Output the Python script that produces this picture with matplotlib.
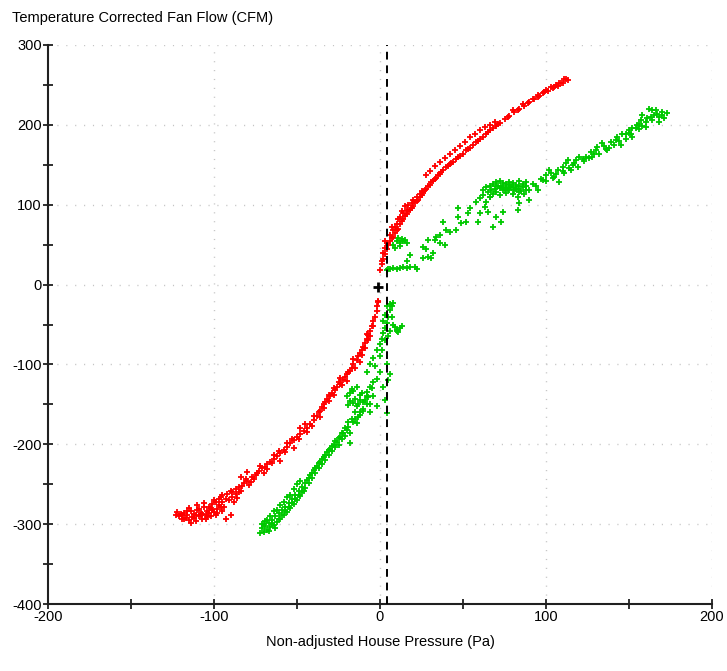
import matplotlib
matplotlib.use("Agg")
import matplotlib.pyplot as plt
from matplotlib.ticker import MultipleLocator

# ---------------- data, (pressure Pa, flow CFM) ----------------
red_lower = [
    (-123, -288), (-121, -290), (-120, -287), (-119, -293), (-118, -286), (-117, -292),
    (-116, -289), (-115, -295), (-114, -284), (-113, -291), (-112, -287), (-111, -296),
    (-110, -282), (-109, -290), (-108, -286), (-107, -293), (-106, -279), (-105, -288),
    (-104, -283), (-103, -278), (-102, -290), (-101, -275), (-100, -285), (-99, -272),
    (-98, -281), (-97, -268), (-96, -278), (-95, -264), (-118, -294), (-115, -280),
    (-112, -292), (-110, -276), (-108, -289), (-106, -274), (-104, -291), (-102, -280),
    (-100, -270), (-98, -286), (-96, -266), (-94, -279), (-92, -262), (-90, -259),
    (-93, -294), (-90, -288), (-95, -284), (-86, -267), (-88, -272),
    (-89, -260), (-87, -256), (-85, -253), (-84, -258), (-82, -248), (-80, -246),
    (-79, -251), (-77, -241), (-75, -238), (-73, -233), (-71, -230), (-70, -236),
    (-68, -225), (-66, -222), (-64, -219), (-62, -215), (-60, -211), (-58, -207),
    (-56, -203), (-54, -199), (-52, -195), (-50, -191), (-48, -187), (-46, -183),
    (-44, -179), (-42, -174), (-40, -169), (-38, -164), (-36, -158), (-35, -153),
    (-34, -150), (-33, -147), (-32, -143), (-30, -140), (-29, -136), (-27, -132),
    (-26, -128), (-24, -124), (-22, -120), (-21, -116), (-20, -112), (-18, -108),
    (-17, -104), (-16, -100), (-14, -95), (-13, -90), (-12, -86), (-11, -82),
    (-10, -78), (-9, -73), (-8, -68), (-7, -63), (-6, -58), (-5, -52), (-4, -46),
    (-3, -40), (-2, -33), (-2, -27), (-1, -22), (-1, -20),
    (-84, -241), (-80, -235), (-76, -243), (-72, -227), (-68, -231), (-64, -213),
    (-60, -221), (-56, -199), (-52, -205), (-48, -179), (-44, -185), (-40, -164),
    (-36, -166), (-31, -146), (-28, -130), (-24, -117), (-20, -121), (-16, -93),
    (-12, -97), (-8, -62),
    (-122, -285), (-119, -289), (-116, -284), (-114, -298), (-111, -289), (-109, -281),
    (-107, -287), (-105, -294), (-103, -286), (-101, -282), (-99, -288), (-97, -276),
    (-95, -272), (-93, -268), (-91, -270), (-89, -266), (-87, -262), (-85, -260),
    (-83, -252), (-81, -244), (-78, -247), (-74, -236), (-69, -228), (-65, -224),
    (-61, -209), (-57, -210), (-53, -193), (-49, -193), (-45, -175), (-41, -177),
    (-37, -160), (-34, -155), (-31, -138), (-28, -138), (-25, -122), (-23, -126),
    (-19, -110), (-15, -104), (-11, -88), (-9, -80), (-7, -70), (-6, -64), (-4, -52),
]
red_upper = [
    (0, 18), (1, 26), (2, 32), (3, 38), (4, 44), (6, 54), (8, 60), (10, 68), (12, 76),
    (14, 82), (16, 88), (18, 94), (20, 99), (22, 105), (24, 110), (26, 115), (28, 120),
    (30, 125), (32, 130), (34, 134), (36, 139), (38, 143), (40, 147), (42, 151),
    (44, 154), (46, 157), (48, 161), (50, 164), (52, 168), (54, 171), (56, 175),
    (58, 178), (60, 182), (62, 185), (64, 189), (66, 193), (68, 196), (70, 199),
    (72, 202), (75, 207), (78, 211), (81, 216), (84, 220), (87, 224), (90, 229),
    (93, 232), (96, 236), (98, 240), (101, 243), (104, 246), (107, 249), (110, 253),
    (113, 256), (111, 257), (108, 252),
    (28, 137), (30, 142), (33, 148), (36, 153), (39, 158), (42, 164), (45, 169),
    (48, 174), (51, 179), (54, 185), (57, 189), (60, 193), (63, 197), (66, 200),
    (69, 204),
    (2, 40), (4, 52), (6, 62), (8, 68), (10, 76), (12, 84), (14, 90), (16, 94),
    (19, 102), (22, 110), (25, 117), (3, 55), (7, 72), (11, 82), (15, 98), (20, 106),
    (13, 92), (17, 100), (9, 64), (24, 114),
    (80, 218), (86, 226), (92, 233), (100, 244), (106, 250), (112, 258), (95, 238),
    (103, 247),
    (1, 30), (3, 46), (5, 50), (7, 58), (9, 72), (11, 70), (13, 80), (15, 86),
    (17, 92), (19, 96), (21, 104), (23, 106), (25, 112), (27, 118), (29, 124),
    (31, 128), (33, 132), (35, 137), (37, 141), (41, 149), (43, 152), (47, 160),
    (53, 170), (59, 180), (65, 191), (71, 201), (77, 210), (83, 219), (89, 227),
    (95, 235), (99, 241), (105, 247), (109, 252),
]
green_lower = [
    (-72, -311), (-71, -305), (-70, -310), (-69, -302), (-68, -307), (-67, -298),
    (-66, -304), (-65, -295), (-64, -301), (-63, -290), (-62, -297), (-61, -286),
    (-60, -293), (-59, -282), (-58, -289), (-57, -278), (-56, -285), (-55, -273),
    (-54, -280), (-53, -268), (-52, -275), (-51, -263), (-50, -270), (-49, -259),
    (-48, -265), (-47, -253), (-46, -259), (-45, -249), (-70, -300), (-68, -295),
    (-66, -290), (-64, -284), (-62, -282), (-60, -276), (-58, -272), (-56, -266),
    (-54, -264), (-52, -256), (-50, -250), (-48, -246),
    (-44, -245), (-43, -248), (-42, -238), (-41, -242), (-40, -232), (-39, -236),
    (-38, -227), (-37, -230), (-36, -222), (-35, -225), (-34, -216), (-33, -220),
    (-32, -210), (-31, -214), (-30, -206), (-29, -209), (-28, -201), (-27, -204),
    (-26, -197), (-25, -201), (-24, -191), (-23, -194), (-22, -186), (-21, -189),
    (-20, -182), (-19, -178), (-18, -186), (-16, -172), (-15, -168), (-14, -173),
    (-13, -166), (-12, -163), (-10, -158), (-8, -150), (-18, -198), (-12, -160),
    (-20, -140), (-18, -146), (-16, -133), (-14, -152), (-12, -138), (-10, -147),
    (-8, -134), (-6, -150), (-4, -139), (-19, -151), (-17, -131), (-15, -143),
    (-13, -149), (-11, -136), (-9, -145), (-7, -141), (-5, -130), (-14, -128),
    (-10, -156), (-6, -160), (-2, -152),
    (-8, -110), (-6, -100), (-4, -92), (-2, -82), (0, -75), (1, -68), (2, -61),
    (3, -55), (4, -48), (5, -40), (6, -32), (7, -27), (8, -23), (9, -53), (10, -57),
    (11, -60), (12, -55), (13, -52), (8, -50), (10, -58), (2, -45), (3, -38),
    (2, -128), (3, -144), (4, -161), (5, -120), (4, -100), (6, -112),
    (-71, -300), (-69, -296), (-67, -309), (-65, -300), (-63, -305), (-61, -294),
    (-59, -288), (-57, -284), (-55, -279), (-53, -274), (-51, -268), (-49, -264),
    (-47, -260), (-45, -255), (-43, -242), (-41, -236), (-39, -230), (-37, -224),
    (-35, -218), (-33, -213), (-31, -207), (-29, -202), (-27, -196), (-25, -192),
    (-23, -186), (-21, -180), (-19, -172), (-17, -168), (-15, -160),
    (-18, -136), (-16, -148), (-12, -144), (-8, -140), (-6, -128), (-4, -122),
    (-2, -118), (0, -110), (-3, -102), (0, -90), (1, -82), (3, -70), (5, -64),
    (6, -58), (4, -27), (6, -24), (7, -40),
]
green_upper = [
    (4, 18), (5, 20), (6, 19), (8, 21), (10, 20), (12, 21), (14, 22), (16, 21),
    (18, 22), (21, 22), (22, 20),
    (8, 50), (10, 55), (11, 58), (12, 52), (13, 57), (14, 54), (15, 56), (16, 52),
    (9, 46), (12, 48),
    (16, 30), (18, 37), (26, 33), (28, 45), (29, 35), (31, 33), (32, 40), (26, 47),
    (29, 56), (33, 56), (34, 60), (36, 52), (39, 49), (36, 62), (38, 78), (40, 68),
    (42, 66), (46, 68), (47, 85), (49, 77), (47, 96), (52, 78), (53, 89), (54, 96),
    (59, 78), (60, 89), (58, 103), (63, 97), (65, 91), (66, 110), (68, 72), (70, 85),
    (73, 78), (74, 91), (83, 93), (84, 102), (90, 106), (83, 110),
    (60, 108), (62, 112), (64, 104), (65, 116), (66, 110), (67, 118), (68, 114),
    (69, 120), (70, 116), (71, 124), (72, 112), (73, 122), (74, 127), (75, 118),
    (76, 126), (77, 120), (78, 128), (79, 122), (80, 127), (81, 118), (82, 125),
    (83, 120), (84, 124), (85, 117), (86, 122), (87, 114), (88, 119), (70, 124),
    (72, 121), (76, 115), (80, 113), (84, 130), (78, 125), (74, 118),
    (62, 118), (64, 122), (66, 124), (68, 126), (70, 128), (72, 130), (74, 124),
    (76, 121), (78, 118), (80, 122), (82, 120), (84, 116), (86, 126), (88, 128),
    (88, 124), (90, 118), (92, 126), (95, 118), (98, 131), (100, 137), (102, 143),
    (104, 133), (106, 139), (107, 143), (108, 128), (110, 147), (112, 152),
    (113, 156), (114, 146), (116, 150), (118, 156), (120, 160), (122, 157),
    (124, 160), (127, 166), (128, 160), (130, 168), (131, 172), (134, 177),
    (136, 170), (137, 168), (139, 178), (141, 175), (143, 185), (145, 175),
    (146, 189), (148, 182), (150, 193), (151, 188), (152, 185), (154, 196),
    (155, 200), (157, 206), (158, 198), (160, 197), (161, 208), (163, 210),
    (164, 218), (165, 212), (167, 214), (168, 203), (170, 212), (171, 208),
    (173, 215), (162, 220), (166, 218), (156, 201), (150, 190), (144, 180),
    (138, 171), (132, 164), (126, 158), (119, 147), (111, 140), (105, 135),
    (97, 132),
    (152, 196), (156, 195), (160, 204), (164, 206), (168, 210), (170, 216),
    (158, 212), (148, 188), (142, 181), (135, 173), (129, 163), (123, 155),
    (117, 152), (115, 143), (110, 142), (103, 140), (100, 130), (94, 124),
]

red_x = [p[0] for p in red_lower + red_upper]
red_y = [p[1] for p in red_lower + red_upper]
green_x = [p[0] for p in green_lower + green_upper]
green_y = [p[1] for p in green_lower + green_upper]

origin_x = [-1]
origin_y = [-3]
dashed_x = 4

x_ticks = [-200, -100, 0, 100, 200]
y_ticks = [-400, -300, -200, -100, 0, 100, 200, 300]

# ---------------- figure ----------------
plt.rcParams['font.family'] = ['Liberation Sans', 'DejaVu Sans']
plt.rcParams['axes.unicode_minus'] = False
fig = plt.figure(figsize=(7.27, 6.71), dpi=100)
ax = fig.add_axes([48 / 727, 1 - 604 / 671, (712 - 48) / 727, (604 - 45) / 671])

ax.set_xlim(-200, 200)
ax.set_ylim(-400, 300)

grid_kw = dict(color='#c4c4c4', linewidth=1.0, dashes=(0.8, 5.6), zorder=0)
for gx in [-100, 0, 100, 200]:
    ax.axvline(gx, **grid_kw)
for gy in [-300, -200, -100, 0, 100, 200, 300]:
    ax.axhline(gy, **grid_kw)

ax.scatter(red_x, red_y, marker='+', s=22, linewidths=1.3, color='#ff0000', zorder=3)
ax.scatter(green_x, green_y, marker='+', s=22, linewidths=1.3, color='#00c800', zorder=2)

ax.axvline(dashed_x, color='black', linewidth=1.4, dashes=(4, 3), zorder=4)
ax.scatter(origin_x, origin_y, marker='+', s=60, linewidths=2.0, color='black', zorder=5)

for s in ['top', 'right']:
    ax.spines[s].set_visible(False)
for s in ['left', 'bottom']:
    ax.spines[s].set_linewidth(1.5)
    ax.spines[s].set_color('#202020')

ax.set_xticks(x_ticks)
ax.set_yticks(y_ticks)
ax.xaxis.set_minor_locator(MultipleLocator(50))
ax.yaxis.set_minor_locator(MultipleLocator(50))
ax.tick_params(which='both', direction='inout', length=7, width=1.3, color='#202020',
               labelsize=10.5, pad=1)

ax.set_xlabel('Non-adjusted House Pressure (Pa)', fontsize=10.5, labelpad=8)
fig.text(12 / 727, 1 - 18 / 671, 'Temperature Corrected Fan Flow (CFM)', fontsize=10.5,
         ha='left', va='center')

fig.savefig('out.png', dpi=100)
